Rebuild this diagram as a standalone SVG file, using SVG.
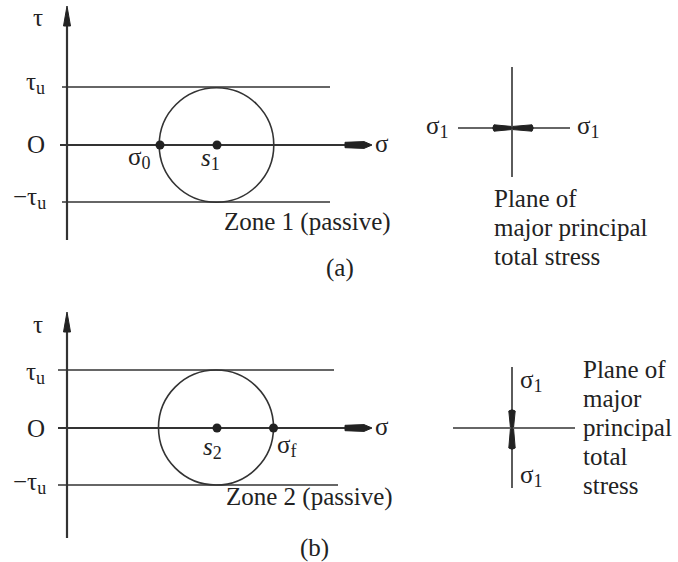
<svg xmlns="http://www.w3.org/2000/svg" width="678" height="562" viewBox="0 0 678 562">
<style>
text{font-family:"Liberation Serif","Times New Roman",serif;fill:#222;font-size:25px}
.sub{font-size:18px}
.ax{stroke:#333;stroke-width:2.2;fill:none}
.ln{stroke:#333;stroke-width:1.6;fill:none}
.cir{stroke:#333;stroke-width:1.6;fill:none}
.dot{fill:#222}
.head{fill:#222;stroke:#222;stroke-width:1;stroke-linejoin:round}
</style>
<g id="connectors">
<line class="ax" x1="67" y1="20" x2="67" y2="240"/>
<polygon class="head" points="67,6 70.5,26 63.5,26"/>
<line class="ax" x1="60" y1="145" x2="346" y2="145"/>
<polygon class="head" points="345,142.3 364,141.6 372,145 364,148.4 345,147.7"/>
<line class="ln" x1="62" y1="87" x2="330" y2="87"/>
<line class="ln" x1="62" y1="202" x2="330" y2="202"/>
<line class="ax" x1="67" y1="328" x2="67" y2="538"/>
<polygon class="head" points="67,312 70.5,332 63.5,332"/>
<line class="ax" x1="58" y1="428" x2="346" y2="428"/>
<polygon class="head" points="345,425.3 364,424.6 372,428 364,431.4 345,430.7"/>
<line class="ln" x1="58" y1="370" x2="334" y2="370"/>
<line class="ln" x1="58" y1="485" x2="338" y2="485"/>
<line class="ln" x1="512" y1="67" x2="512" y2="177"/>
<line class="ln" x1="458" y1="128" x2="570" y2="128"/>
<path class="head" d="M494,124.8 Q491.5,128 494,131.2 L511,129.6 L511,126.4 Z"/>
<path class="head" d="M532,124.8 Q534.5,128 532,131.2 L513,129.6 L513,126.4 Z"/>
<line class="ln" x1="512" y1="367" x2="512" y2="488"/>
<line class="ln" x1="453" y1="428" x2="575" y2="428"/>
<path class="head" d="M508.8,411 Q512,408.5 515.2,411 L513.6,427 L510.4,427 Z"/>
<path class="head" d="M508.8,448 Q512,450.5 515.2,448 L513.6,429 L510.4,429 Z"/>
</g>
<g id="node-circle-a">
<circle class="cir" cx="216.5" cy="145" r="57.3"/>
<circle class="dot" cx="160" cy="145" r="4.5"/>
<circle class="dot" cx="217" cy="145" r="4.5"/>
</g>
<g id="node-circle-b">
<circle class="cir" cx="216" cy="427.5" r="57.5"/>
<circle class="dot" cx="217" cy="428" r="4.5"/>
<circle class="dot" cx="273.5" cy="428" r="4.5"/>
</g>
<g id="labels-a">
<text x="33" y="26">τ</text>
<text x="26" y="90">τ<tspan class="sub" dy="4">u</tspan></text>
<text x="27" y="153">O</text>
<text x="13" y="205">−τ<tspan class="sub" dy="4">u</tspan></text>
<text x="375" y="152">σ</text>
<text x="128" y="165">σ<tspan class="sub" dy="4">0</tspan></text>
<text x="201" y="166" font-style="italic">s<tspan class="sub" font-style="normal" dy="4">1</tspan></text>
<text x="224" y="230">Zone 1 (passive)</text>
<text x="326" y="276">(a)</text>
</g>
<g id="labels-a-right">
<text x="426" y="134">σ<tspan class="sub" dy="4">1</tspan></text>
<text x="577" y="134">σ<tspan class="sub" dy="4">1</tspan></text>
<text x="494" y="207">Plane of</text>
<text x="494" y="236">major principal</text>
<text x="494" y="265">total stress</text>
</g>
<g id="labels-b">
<text x="33" y="333">τ</text>
<text x="26" y="380">τ<tspan class="sub" dy="4">u</tspan></text>
<text x="27" y="437">O</text>
<text x="13" y="490">−τ<tspan class="sub" dy="4">u</tspan></text>
<text x="375" y="435">σ</text>
<text x="203" y="455" font-style="italic">s<tspan class="sub" font-style="normal" dy="4">2</tspan></text>
<text x="277" y="453">σ<tspan class="sub" dy="4">f</tspan></text>
<text x="226" y="505">Zone 2 (passive)</text>
<text x="300" y="556">(b)</text>
</g>
<g id="labels-b-right">
<text x="520" y="388">σ<tspan class="sub" dy="4">1</tspan></text>
<text x="520" y="483">σ<tspan class="sub" dy="4">1</tspan></text>
<text x="583" y="378">Plane of</text>
<text x="583" y="407">major</text>
<text x="583" y="436">principal</text>
<text x="583" y="465">total</text>
<text x="583" y="494">stress</text>
</g>
</svg>
